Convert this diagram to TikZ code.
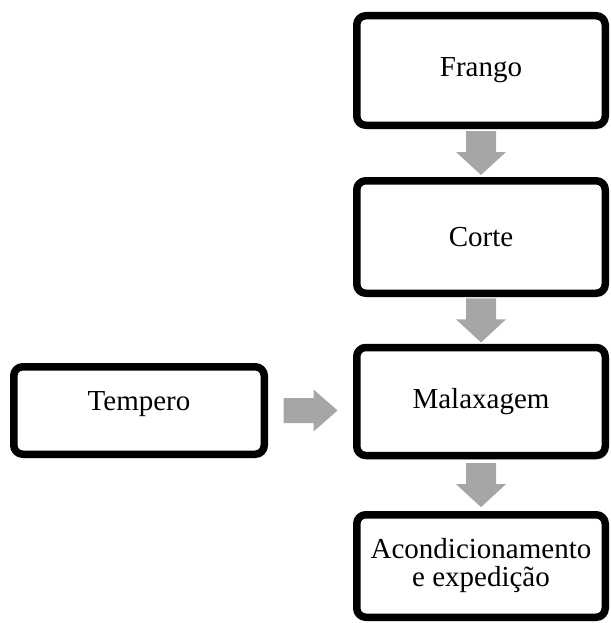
\documentclass[tikz,border=0pt]{standalone}
\usepackage{fontspec}
\setmainfont{Liberation Serif}
\usetikzlibrary{calc,shadows.blur}
\definecolor{flowgray}{HTML}{A6A6A6}
\tikzset{
  stage/.style={draw=black,fill=white,rounded corners=9pt,minimum width=248.5pt,
    align=center,inner sep=0pt,outer sep=0pt,font=\fontsize{29}{28}\selectfont,
    blur shadow={shadow xshift=2pt,shadow yshift=-2.5pt,shadow blur steps=6,shadow opacity=30}},
  flow/.style={fill=flowgray,draw=none}
}
\begin{document}
\begin{tikzpicture}[x=1pt,y=-1pt,line width=7.5pt,line join=round]
\useasboundingbox (0,0) rectangle (610,623);
\node[stage,minimum height=109.5pt] (frango) at (481,70.5) {Frango};
\node[stage,minimum height=112.5pt] (corte) at (481,237) {Corte};
\node[stage,minimum height=108pt] (malaxagem) at (481,401.5) {Malaxagem};
\node[stage,minimum height=102.5pt] (acond) at (481,566) {Acondicionamento\\e expedição};
\node[stage,minimum width=250.5pt,minimum height=87.5pt,text depth=18pt] (tempero) at (139,410.5) {Tempero};
\foreach \a/\b in {frango/corte,corte/malaxagem,malaxagem/acond}
  \fill[flow] ($(\a.south)!0.5!(\b.north)+(-15,-22)$) -- ++(30,0) -- ++(0,21) -- ++(10,0)
    -- ++(-25,23) -- ++(-25,-23) -- ++(10,0) -- cycle;
\fill[flow] ($(tempero.east)!0.5!(tempero.east -| malaxagem.west)+(-27,-12.5)$) -- ++(30,0)
  -- ++(0,-8.5) -- ++(24,21) -- ++(-24,21) -- ++(0,-8.5) -- ++(-30,0) -- cycle;
\end{tikzpicture}
\end{document}
